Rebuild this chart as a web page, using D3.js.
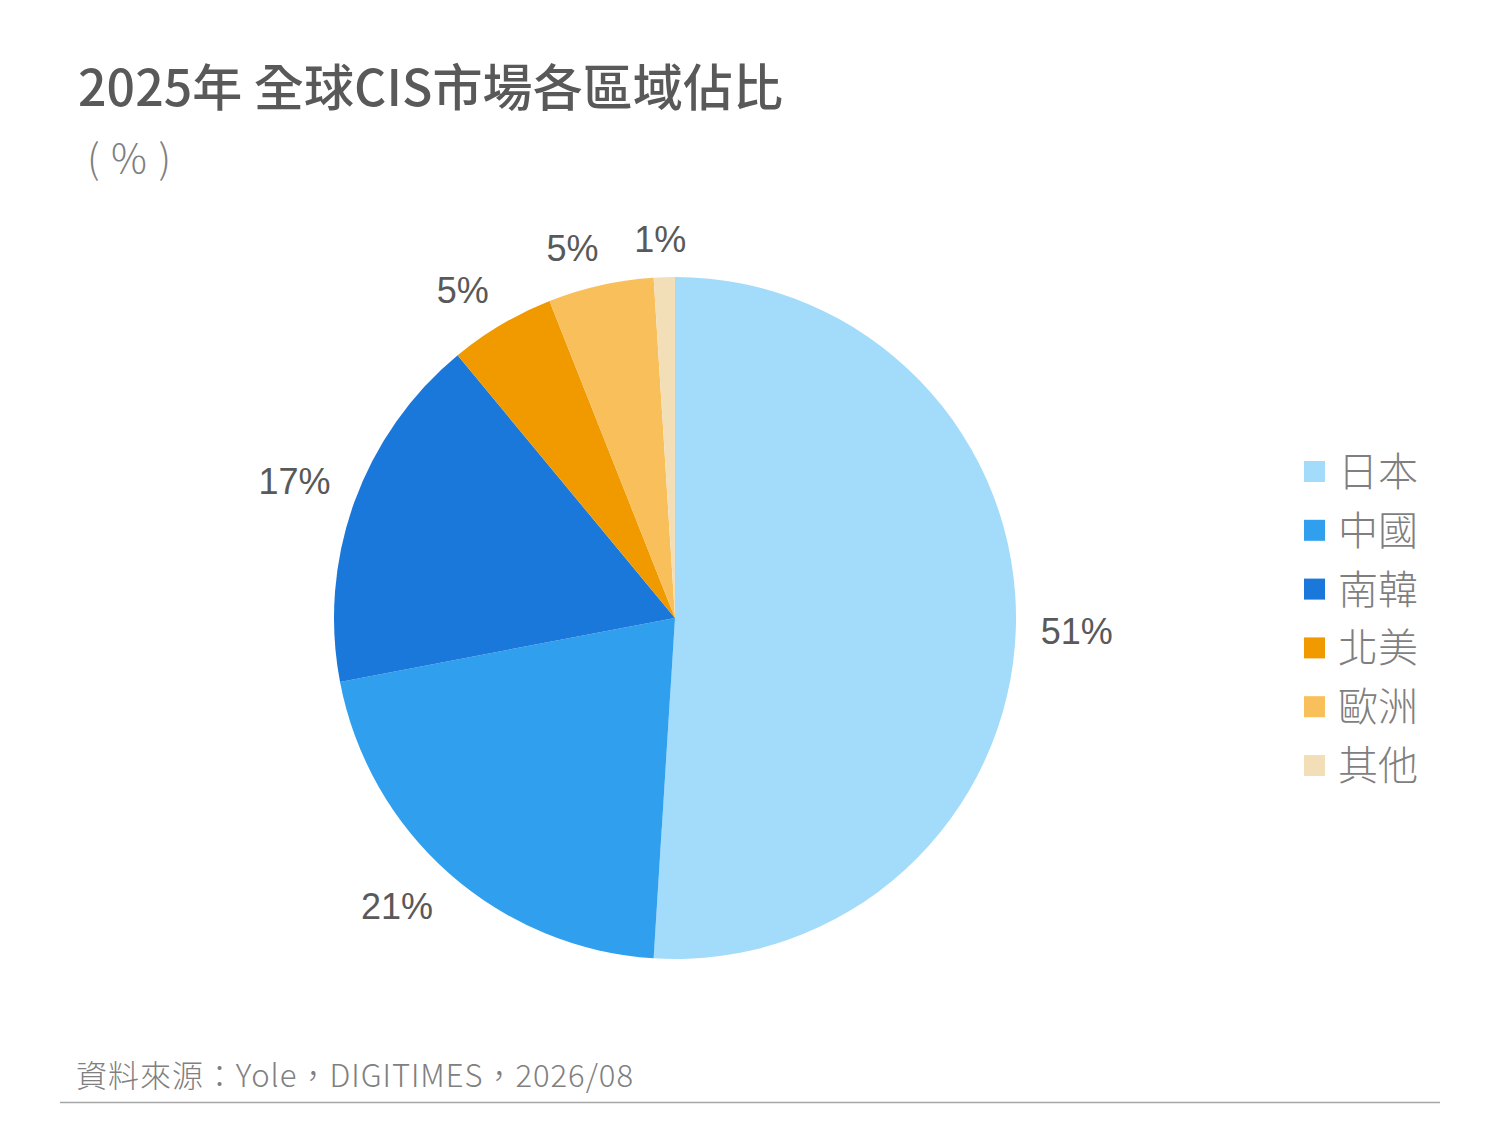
<!DOCTYPE html>
<html>
<head>
<meta charset="utf-8">
<script src="https://cdn.jsdelivr.net/npm/d3@7"></script>
<style>
  body { margin: 0; background: #fff; }
  svg { display: block; }
</style>
</head>
<body>
<svg id="chart" width="1500" height="1125"></svg>
<script>
// Data
var regions = ["日本", "中國", "南韓", "北美", "歐洲", "其他"];
var shares = [51, 21, 17, 5, 5, 1];
var colors = ["#a3dbfa", "#309fed", "#1a78db", "#f09a00", "#f8bf5a", "#f3dfb7"];

var titleText = "2025年 全球CIS市場各區域佔比";
var unitText = "( % )";
var sourceText = "資料來源：Yole，DIGITIMES，2026/08";

var svg = d3.select("#chart");
var cjk = "'Noto Sans CJK TC', 'Noto Sans', sans-serif";
var latin = "'Liberation Sans', Arial, sans-serif";

// Titles
svg.append("text")
  .attr("x", 78)
  .attr("y", 106)
  .attr("textLength", 705)
  .attr("lengthAdjust", "spacing")
  .style("font-family", cjk)
  .style("font-weight", 500)
  .style("font-size", "50px")
  .attr("fill", "#595959")
  .text(titleText);

svg.append("text")
  .attr("x", 87)
  .attr("y", 173)
  .attr("textLength", 84)
  .attr("lengthAdjust", "spacing")
  .style("font-family", cjk)
  .style("font-weight", 300)
  .style("font-size", "40px")
  .style("white-space", "pre")
  .attr("fill", "#7f7f7f")
  .text(unitText);

// Pie
var cx = 675, cy = 618, radius = 341;
var data = regions.map(function(r, i) { return {name: r, value: shares[i], color: colors[i]}; });

var pie = d3.pie()
  .value(d => d.value)
  .sort(null);

var arc = d3.arc()
  .innerRadius(0)
  .outerRadius(radius);

var arcs = pie(data);

var pieG = svg.append("g")
  .attr("transform", `translate(${cx},${cy})`);

pieG.selectAll("path")
  .data(arcs)
  .enter()
  .append("path")
  .attr("d", arc)
  .attr("fill", d => d.data.color);

// Labels outside: anchor point just past the rim, box pushed away from it
var anchorR = radius + 25;
var clamp = v => Math.max(-1, Math.min(1, v));
var labels = pieG.selectAll("text.lbl")
  .data(arcs)
  .enter()
  .append("text")
  .attr("class", "lbl")
  .style("font-family", latin)
  .style("font-size", "36px")
  .attr("fill", "#595959")
  .attr("text-anchor", "middle")
  .text(d => d.data.value + "%");

labels.each(function(d) {
  var w = this.getComputedTextLength();
  var h = 26;
  var a = (d.startAngle + d.endAngle) / 2;
  var dx = Math.sin(a), dy = -Math.cos(a);
  var x = dx * anchorR + clamp(4 * dx) * w / 2;
  var y = dy * anchorR + clamp(4 * dy) * h / 2;
  d3.select(this)
    .attr("x", x)
    .attr("y", y + 13);
});

// Legend
var legend = svg.append("g")
  .attr("transform", "translate(1304,471)");

var rows = legend.selectAll("g")
  .data(data)
  .enter()
  .append("g")
  .attr("transform", (d, i) => `translate(0,${i * 58.8})`);

rows.append("rect")
  .attr("x", 0)
  .attr("y", -10)
  .attr("width", 21)
  .attr("height", 21)
  .attr("fill", d => d.color);

rows.append("text")
  .attr("x", 34)
  .attr("y", 15)
  .style("font-family", cjk)
  .style("font-weight", 300)
  .style("font-size", "40px")
  .attr("fill", "#7f7f7f")
  .text(d => d.name);

// Footer
svg.append("text")
  .attr("x", 76)
  .attr("y", 1087)
  .attr("textLength", 557)
  .attr("lengthAdjust", "spacing")
  .style("font-family", cjk)
  .style("font-weight", 300)
  .style("font-size", "31px")
  .attr("fill", "#808080")
  .text(sourceText);

svg.append("line")
  .attr("x1", 60)
  .attr("x2", 1440)
  .attr("y1", 1102.5)
  .attr("y2", 1102.5)
  .attr("stroke", "#a6a6a6")
  .attr("stroke-width", 1.5);
</script>
</body>
</html>
